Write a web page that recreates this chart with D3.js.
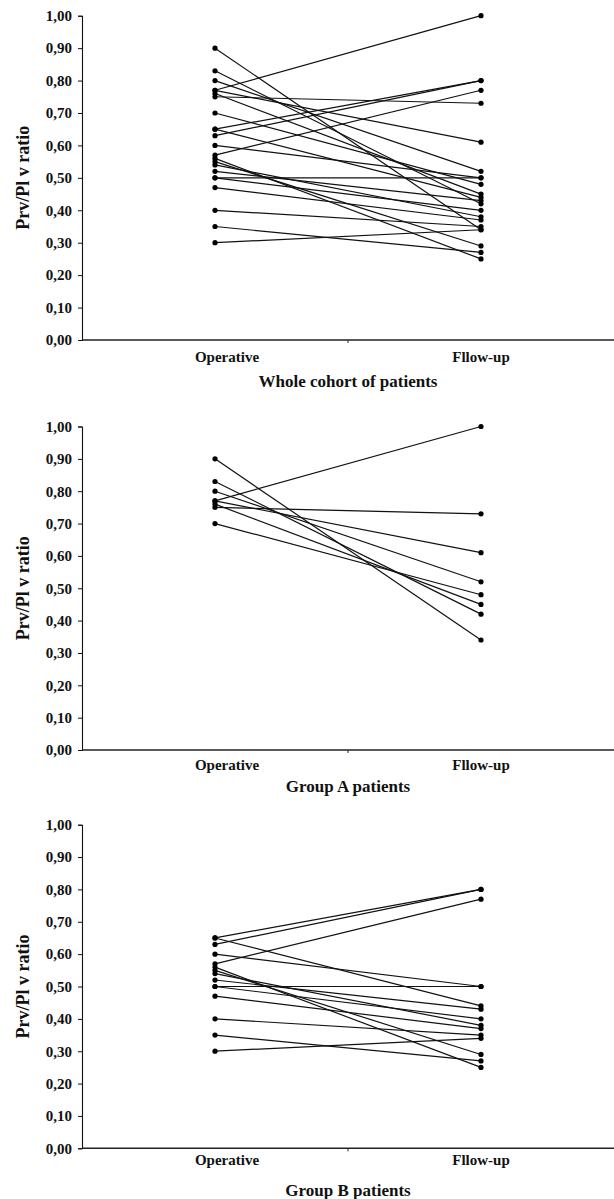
<!DOCTYPE html>
<html>
<head>
<meta charset="utf-8">
<script src="https://cdn.jsdelivr.net/npm/d3@7"></script>
<style>
  html, body { margin: 0; padding: 0; background: #fff; }
  svg { display: block; }
  text { font-family: "Liberation Serif", "DejaVu Serif", serif; font-weight: bold; fill: #111; }
</style>
</head>
<body>
<div id="chart"></div>
<script>
const WIDTH = 614, HEIGHT = 1199;

const categories = ["Operative", "Fllow-up"];
const yTicks = [0, 0.1, 0.2, 0.3, 0.4, 0.5, 0.6, 0.7, 0.8, 0.9, 1.0];

// group A: [operative, follow-up] per patient
const groupA = [
    [0.90, 0.34],
    [0.83, 0.42],
    [0.80, 0.52],
    [0.77, 1.00],
    [0.77, 0.61],
    [0.76, 0.45],
    [0.75, 0.73],
    [0.70, 0.48]
];

// group B
const groupB = [
    [0.65, 0.80],
    [0.65, 0.44],
    [0.63, 0.80],
    [0.60, 0.50],
    [0.57, 0.77],
    [0.56, 0.25],
    [0.55, 0.29],
    [0.54, 0.38],
    [0.52, 0.43],
    [0.50, 0.50],
    [0.50, 0.40],
    [0.47, 0.37],
    [0.40, 0.35],
    [0.35, 0.27],
    [0.30, 0.34]
];

const wholeCohort = groupA.concat(groupB);

const panels = [
    {title: "Whole cohort of patients", data: wholeCohort, top: 15.7, bottom: 340, catY: 362, titleY: 387},
    {title: "Group A patients", data: groupA, top: 426.5, bottom: 750, catY: 770, titleY: 792},
    {title: "Group B patients", data: groupB, top: 824.7, bottom: 1148.3, catY: 1165, titleY: 1196}
];

const svg = d3.select("#chart").append("svg")
    .attr("width", WIDTH)
    .attr("height", HEIGHT);

const axisX = 82;

const x = d3.scalePoint()
    .domain(categories)
    .range([axisX, WIDTH])
    .padding(0.5);

const fmt = v => d3.format(".2f")(v).replace(".", ",");

function drawPanel(p){
    const g = svg.append("g");

    const y = d3.scaleLinear()
        .domain([0, 1])
        .range([p.bottom, p.top]);

    // y axis
    const yAxis = g.append("g")
        .attr("transform", `translate(${axisX},0)`)
        .call(d3.axisLeft(y).tickValues(yTicks).tickFormat(fmt).tickSize(4).tickPadding(6));
    yAxis.select(".domain").attr("stroke", "#111").attr("stroke-width", 1.1);
    yAxis.selectAll(".tick line").attr("stroke", "#111");
    yAxis.selectAll(".tick text")
        .style("font-size", "15px")
        .style("font-family", "'Liberation Serif', serif")
        .style("font-weight", "bold")
        .attr("fill", "#111");

    // x axis line running to the right edge
    g.append("line")
        .attr("x1", axisX).attr("x2", WIDTH)
        .attr("y1", p.bottom).attr("y2", p.bottom)
        .attr("stroke", "#222")
        .attr("stroke-width", 1.6);

    // tick between the two categories
    g.append("line")
        .attr("x1", (x(categories[0]) + x(categories[1])) / 2)
        .attr("x2", (x(categories[0]) + x(categories[1])) / 2)
        .attr("y1", p.bottom).attr("y2", p.bottom + 3)
        .attr("stroke", "#222");

    g.selectAll(".cat")
        .data(categories)
        .join("text")
            .attr("class", "cat")
            .attr("x", (d, i) => x(d) + (i === 0 ? 12 : 0))
            .attr("y", p.catY)
            .attr("text-anchor", "middle")
            .style("font-size", "15px")
            .text(d => d);

    g.append("text")
        .attr("x", (x(categories[0]) + x(categories[1])) / 2)
        .attr("y", p.titleY)
        .attr("text-anchor", "middle")
        .style("font-size", "17px")
        .text(p.title);

    g.append("text")
        .attr("transform", `translate(29,${(p.top + p.bottom) / 2}) rotate(-90)`)
        .attr("text-anchor", "middle")
        .style("font-size", "18px")
        .text("Prv/Pl v ratio");

    // patient lines
    g.selectAll(".pline")
        .data(p.data)
        .join("line")
            .attr("class", "pline")
            .attr("x1", x(categories[0]))
            .attr("x2", x(categories[1]))
            .attr("y1", d => y(d[0]))
            .attr("y2", d => y(d[1]))
            .attr("stroke", "#111")
            .attr("stroke-width", 1.2);

    const pts = p.data.flatMap(d => [[categories[0], d[0]], [categories[1], d[1]]]);
    g.selectAll(".pt")
        .data(pts)
        .join("circle")
            .attr("class", "pt")
            .attr("cx", d => x(d[0]))
            .attr("cy", d => y(d[1]))
            .attr("r", 2.6)
            .attr("fill", "#000");
}

panels.forEach(drawPanel);
</script>
</body>
</html>
